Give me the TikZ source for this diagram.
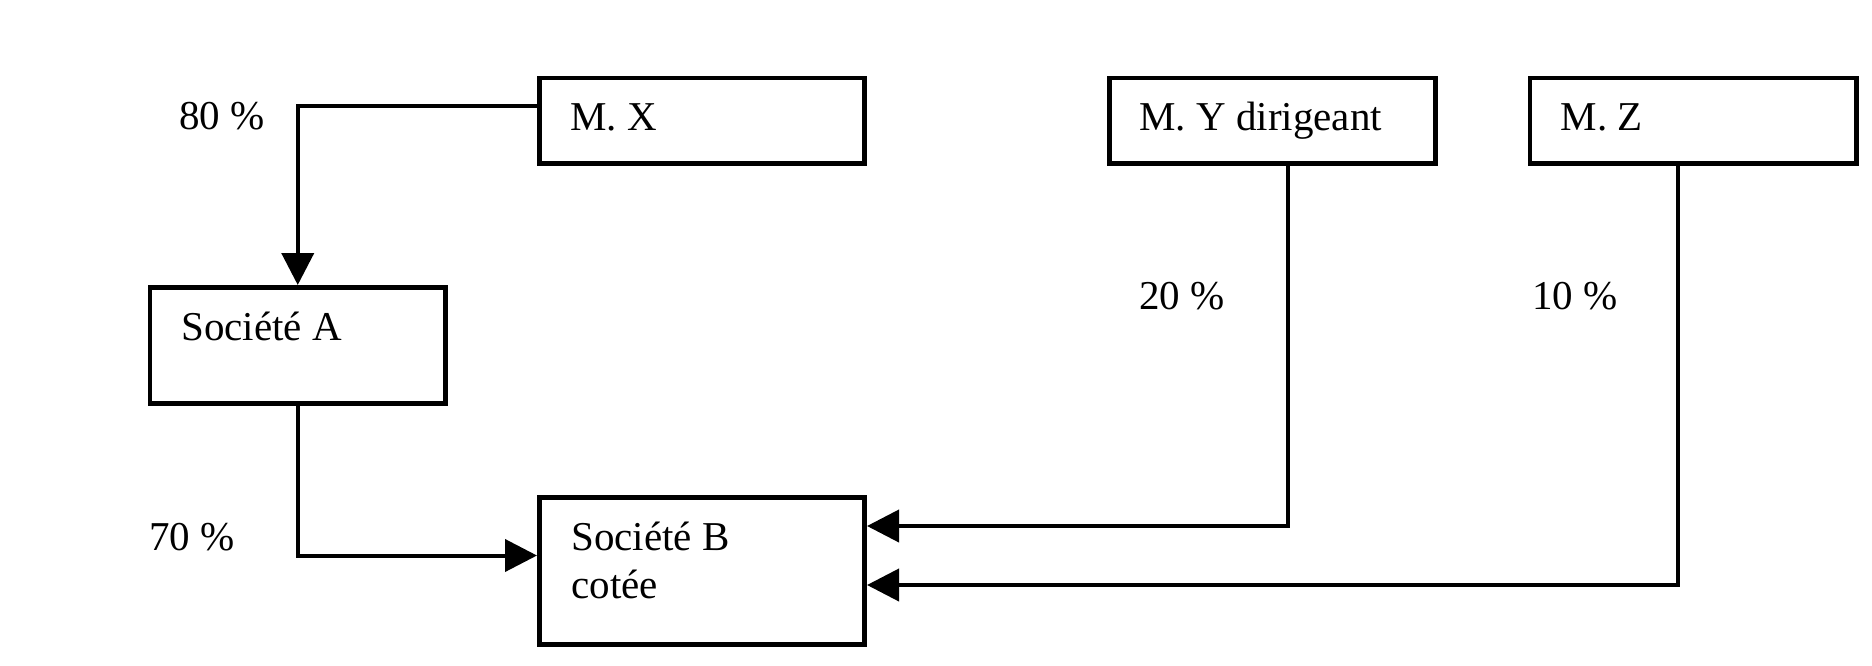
\documentclass[tikz,border=0pt]{standalone}
\usepackage{fontspec}
\setmainfont{Liberation Serif}
\usetikzlibrary{calc,arrows.meta}
\begin{document}
\begin{tikzpicture}[x=0.5pt,y=-0.5pt,
  box/.style={draw,line width=2.3pt,rectangle,inner sep=0pt,outer sep=1.15pt},
  txt/.style={anchor=base west,inner sep=0pt,font=\fontsize{20.5pt}{24pt}\selectfont},
  arr/.style={line width=2pt,-{Triangle[length=16pt,width=16pt]}}]
\useasboundingbox[fill=white] (0,0) rectangle (1872,665);
% boxes
\node[box,minimum width=325.4*0.5pt,minimum height=85.9*0.5pt] (MX) at (702,120.75) {};
\node[box,minimum width=326.4*0.5pt,minimum height=85.9*0.5pt] (MY) at (1272.5,120.75) {};
\node[box,minimum width=326.4*0.5pt,minimum height=85.9*0.5pt] (MZ) at (1693.3,120.75) {};
\node[box,minimum width=295.9*0.5pt,minimum height=116.4*0.5pt] (SA) at (297.75,345.5) {};
\node[box,minimum width=325.4*0.5pt,minimum height=147.4*0.5pt] (SB) at (702,571) {};
% box texts
\node[txt] (tMX) at ($(MX.north west)+(33,55)$) {M. X};
\node[txt] (tMY) at ($(MY.north west)+(32,54.5)$) {M. Y dirigeant};
\node[txt] (tMZ) at ($(MZ.north west)+(32.4,54.5)$) {M. Z};
\node[txt] (tSA) at ($(SA.north west)+(33.5,55.5)$) {Société A};
\node[txt] (tSB) at ($(SB.north west)+(34,55)$) {Société B};
\node[txt] (tSB2) at ($(SB.north west)+(34,103)$) {cotée};
% percentages
\node[txt] (p80) at (179,129.3) {80 \%};
\node[txt] (p70) at (149,550) {70 \%};
\node[txt] (p20) at (1139,309.6) {20 \%};
\node[txt] (p10) at (1532,309.6) {10 \%};
% connectors
\draw[arr] ($(MX.north west)+(0,30.5)$) -| (SA.north);
\draw[arr] (SA.south) |- ($(SB.north west)+(0,60.5)$);
\draw[arr] ($(MY.south)+(15,0)$) |- ($(SB.north east)+(0,31)$);
\draw[arr] ($(MZ.south)+(-15,0)$) |- ($(SB.north east)+(0,90)$);
\end{tikzpicture}
\end{document}
